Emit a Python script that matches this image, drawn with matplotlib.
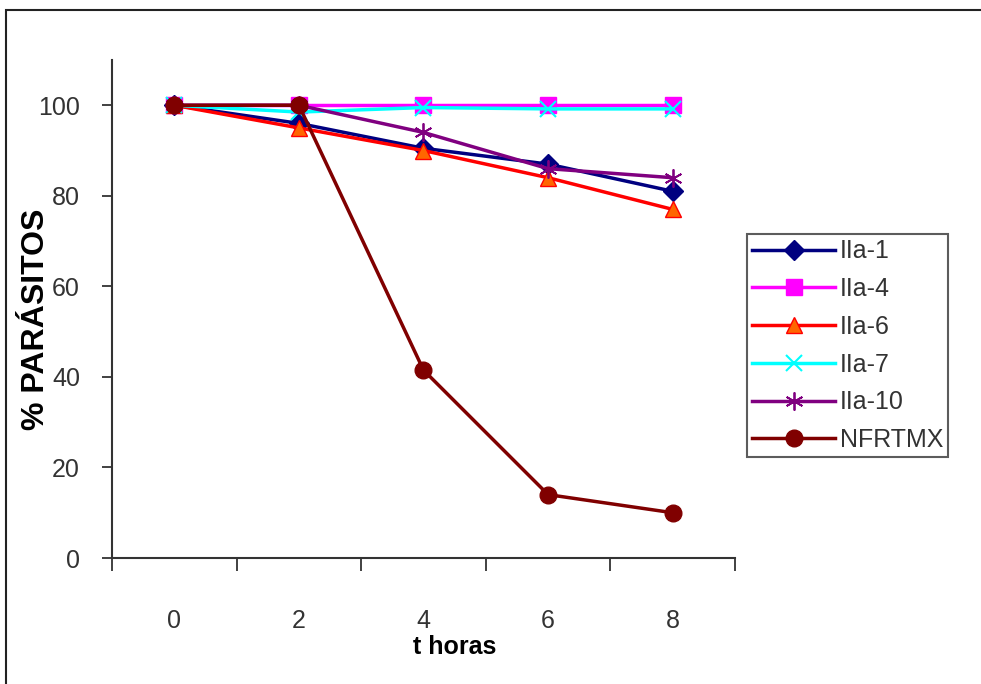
import matplotlib
matplotlib.use('Agg')
import matplotlib.pyplot as plt
from matplotlib.patches import Rectangle
import numpy as np

# Datos
horas = ["0", "2", "4", "6", "8"]
iia_1 = [100, 96, 90.5, 87, 81]
iia_4 = [100, 100, 100, 100, 100]
iia_6 = [100, 95, 90, 84, 77]
iia_7 = [100, 98.5, 99.5, 99.2, 99.2]
iia_10 = [100, 100, 94, 86, 84]
nfrtmx = [100, 100, 41.5, 14, 10]

plt.rcParams['font.family'] = ['Liberation Sans', 'DejaVu Sans']

fig = plt.figure(figsize=(9.81, 6.84), dpi=100)
ax = fig.add_axes([112 / 981, 1 - 558 / 684, 623 / 981, 498 / 684])

# marco exterior
fig.patches.append(Rectangle((6 / 981, -0.1), 1.2, 1 - 10 / 684 + 0.1, transform=fig.transFigure,
                             fill=False, edgecolor='#222222', linewidth=1.5))

x = np.arange(len(horas))
ax.plot(x, iia_1, color='#000080', marker='D', markersize=10, linewidth=2.5, label='IIa-1')
ax.plot(x, iia_4, color='#FF00FF', marker='s', markersize=12, linewidth=2.5, label='IIa-4')
ax.plot(x, iia_6, color='#FF0000', marker='^', markersize=12, markerfacecolor='#FF6600',
        markeredgecolor='#FF0000', linewidth=2.5, label='IIa-6')
ax.plot(x, iia_7, color='#00FFFF', marker='x', markersize=12, markeredgewidth=1.5, linewidth=2.5, label='IIa-7')
ax.plot(x, iia_10, color='#800080', marker=(6, 2, 0), markersize=13, markeredgewidth=1.3, linewidth=2.5, label='IIa-10')
ax.plot(x, nfrtmx, color='#800000', marker='o', markersize=12, linewidth=2.5, label='NFRTMX')

ax.set_xlim(-0.5, 4.5)
ax.set_ylim(0, 110)
ax.set_xticks(x)
ax.set_xticklabels(horas, fontsize=18, color='#333333')
ax.set_xticks(np.arange(-0.5, 5, 1), minor=True)
ax.tick_params(axis='x', which='major', length=0, pad=37)
ax.tick_params(axis='x', which='minor', length=9, width=1.3, direction='out', color='#333333')
ax.set_yticks([0, 20, 40, 60, 80, 100])
ax.tick_params(axis='y', length=7, width=1.3, labelsize=18, labelcolor='#333333', pad=16, color='#333333')

for s in ['top', 'right']:
    ax.spines[s].set_visible(False)
for s in ['left', 'bottom']:
    ax.spines[s].set_linewidth(1.5)
    ax.spines[s].set_color('#333333')

ax.set_xlabel('t horas', fontsize=18, fontweight='bold')
ax.xaxis.set_label_coords(0.55, -0.179)
ax.xaxis.label.set_verticalalignment('center')
ax.set_ylabel('% PARÁSITOS', fontsize=23, fontweight='bold')
ax.yaxis.set_label_coords(-0.122, 0.48)
ax.yaxis.label.set_verticalalignment('center')

leg = ax.legend(loc='upper left', bbox_to_anchor=(1.008, 0.665), fontsize=18, frameon=True,
                fancybox=False, edgecolor='#333333', handlelength=3.3, labelspacing=0.55,
                borderpad=0.2, handletextpad=0.2, borderaxespad=0.3)
leg.get_frame().set_linewidth(1.5)
for t in leg.get_texts():
    t.set_color('#333333')

fig.savefig('out.png', dpi=100)
